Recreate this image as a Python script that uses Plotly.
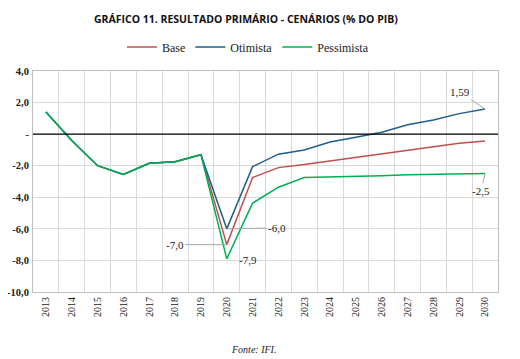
import plotly.graph_objects as go

years = [str(y) for y in range(2013, 2031)]
base = [1.4, -0.4, -2.0, -2.55, -1.85, -1.75, -1.3, -7.0, -2.75, -2.12, -1.92, -1.7, -1.47, -1.25, -1.0, -0.8, -0.58, -0.43]
otimista = [1.4, -0.4, -2.0, -2.55, -1.85, -1.75, -1.3, -6.0, -2.06, -1.27, -1.0, -0.5, -0.2, 0.12, 0.6, 0.9, 1.3, 1.59]
pessimista = [1.4, -0.4, -2.0, -2.55, -1.85, -1.75, -1.3, -7.9, -4.37, -3.36, -2.75, -2.72, -2.68, -2.64, -2.58, -2.56, -2.53, -2.5]
ytickvals = [4, 2, 0, -2, -4, -6, -8, -10]
yticktext = ["4,0", "2,0", "-", "-2,0", "-4,0", "-6,0", "-8,0", "-10,0"]

serif = "Liberation Serif"
fig = go.Figure()
fig.add_trace(go.Scatter(x=years, y=base, name="Base", mode="lines", line=dict(color="#C0504D", width=1.5)))
fig.add_trace(go.Scatter(x=years, y=otimista, name="Otimista", mode="lines", line=dict(color="#1F5F8B", width=1.5)))
fig.add_trace(go.Scatter(x=years, y=pessimista, name="Pessimista", mode="lines", line=dict(color="#00B050", width=1.5)))

fig.add_hline(y=0, line=dict(color="black", width=1.3))

i20 = years.index("2020")
i30 = years.index("2030")
ann_font = dict(family=serif, size=11, color="#222")
arrow = dict(showarrow=True, arrowhead=0, arrowwidth=1, arrowcolor="#A6A6A6")
fig.add_annotation(x=i30, y=otimista[i30], text="1,59", ax=-25, ay=-17, font=ann_font, **arrow)
fig.add_annotation(x=i30, y=pessimista[i30], text="-2,5", ax=-4, ay=17, font=ann_font, **arrow)
fig.add_annotation(x=i20, y=otimista[i20], text="-6,0", ax=50, ay=-1, font=ann_font, **arrow)
fig.add_annotation(x=i20, y=base[i20], text="-7,0", ax=-52, ay=0, font=ann_font, **arrow)
fig.add_annotation(x=i20, y=pessimista[i20], text="-7,9", xshift=21, yshift=-1, showarrow=False, font=ann_font)

# plot area in page pixels: left 33, right 498, top 71, bottom 292 (page has 8px body margin)
fig.add_annotation(text="<b>GRÁFICO 11. RESULTADO PRIMÁRIO - CENÁRIOS (% DO PIB)</b>", xref="paper", yref="paper",
                   x=(246 - 33) / 465, y=(292 - 19) / 221, showarrow=False,
                   font=dict(family="Open Sans", size=10.5, color="#111"), xanchor="center", yanchor="middle")
fig.add_annotation(text="<i>Fonte: IFI.</i>", xref="paper", yref="paper",
                   x=(253 - 33) / 465, y=(292 - 349) / 221, showarrow=False,
                   font=dict(family=serif, size=10, color="#222"), xanchor="center", yanchor="middle")

fig.update_layout(
    width=520, height=359,
    margin=dict(l=25, r=30, t=63, b=75, autoexpand=False),
    paper_bgcolor="white", plot_bgcolor="white",
    showlegend=True,
    legend=dict(orientation="h", x=(248 - 33) / 465, xanchor="center", y=(292 - 47) / 221, yanchor="middle",
                font=dict(family=serif, size=12, color="#222"), itemwidth=30, tracegroupgap=0),
    xaxis=dict(type="category", tickson="boundaries", showgrid=True, gridcolor="#D9D9D9", gridwidth=1,
               tickangle=-90, tickfont=dict(family=serif, size=10, color="#222"), ticks="",
               showline=True, linecolor="#BFBFBF", mirror=True, range=[-0.5, 17.5], automargin=False),
    yaxis=dict(range=[-10, 4], tickvals=ytickvals, ticktext=yticktext, showgrid=True, gridcolor="#D9D9D9",
               zeroline=False, tickfont=dict(family=serif, size=10.5, color="#222", weight="bold"),
               showline=True, linecolor="#BFBFBF", mirror=True, ticks="", ticklabelstandoff=1,
               automargin=False),
)
fig.write_html("out.html")
